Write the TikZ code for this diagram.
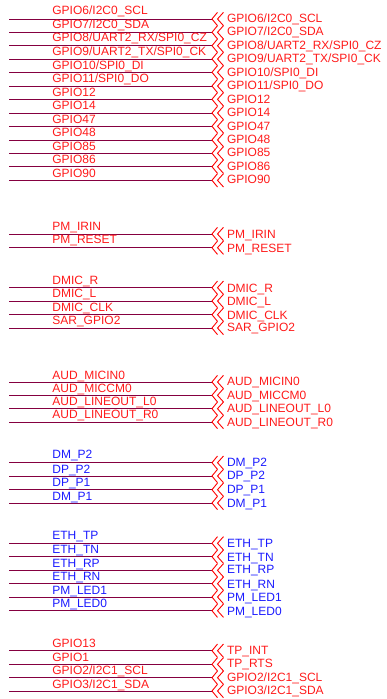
\documentclass[tikz,border=0pt]{standalone}
\usepackage{fontspec}
\setmainfont{Liberation Sans}
\definecolor{netline}{HTML}{850040}
\definecolor{sigred}{HTML}{FF1A1A}
\definecolor{sigblue}{HTML}{1A1AFF}
\tikzset{
  wire/.style={draw=netline,line width=1pt},
  chev/.style={draw=red,line width=0.9pt,line join=miter},
  siglabel/.style={anchor=base west,inner sep=0pt,outer sep=0pt,font=\fontsize{12}{14}\selectfont},
}
% #1 id, #2 wire y, #3 left baseline, #4 right baseline, #5 left text, #6 right text, #7 colour
\newcommand{\netrow}[7]{%
  \coordinate (#1s) at (9,#2);
  \coordinate (#1e) at (212,#2);
  \draw[wire] (#1s) -- (#1e);
  \draw[chev] ([shift={(5.5,-6.7)}]#1e) -- (#1e) -- ([shift={(5.5,6.7)}]#1e);
  \draw[chev] ([shift={(11.5,-6.7)}]#1e) -- ([shift={(5.5,0)}]#1e) -- ([shift={(11.5,6.7)}]#1e);
  \node[siglabel,text=#7] (#1l) at (52.4,#3) {#5};
  \node[siglabel,text=#7] (#1r) at (227,#4) {#6};
}
\begin{document}
\begin{tikzpicture}[x=1pt,y=-1pt]
\useasboundingbox (0,0) rectangle (387,699);
\netrow{a1}{19}{14.7}{22.7}{GPIO6/I2C0\_SCL}{GPIO6/I2C0\_SCL}{sigred}
\netrow{a2}{32.3}{28.7}{35.3}{GPIO7/I2C0\_SDA}{GPIO7/I2C0\_SDA}{sigred}
\netrow{a3}{45.7}{41.7}{49}{GPIO8/UART2\_RX/SPI0\_CZ}{GPIO8/UART2\_RX/SPI0\_CZ}{sigred}
\netrow{a4}{59}{55.7}{62.3}{GPIO9/UART2\_TX/SPI0\_CK}{GPIO9/UART2\_TX/SPI0\_CK}{sigred}
\netrow{a5}{72.3}{69}{76}{GPIO10/SPI0\_DI}{GPIO10/SPI0\_DI}{sigred}
\netrow{a6}{86}{82.3}{89}{GPIO11/SPI0\_DO}{GPIO11/SPI0\_DO}{sigred}
\netrow{a7}{99.3}{96.3}{103}{GPIO12}{GPIO12}{sigred}
\netrow{a8}{113}{109.7}{116.3}{GPIO14}{GPIO14}{sigred}
\netrow{a9}{126.3}{123}{130.3}{GPIO47}{GPIO47}{sigred}
\netrow{a10}{140}{136.3}{143}{GPIO48}{GPIO48}{sigred}
\netrow{a11}{153.3}{150.3}{156.3}{GPIO85}{GPIO85}{sigred}
\netrow{a12}{166.7}{163.7}{170.3}{GPIO86}{GPIO86}{sigred}
\netrow{a13}{180.3}{177}{183.3}{GPIO90}{GPIO90}{sigred}
\netrow{b1}{234}{230.7}{238}{PM\_IRIN}{PM\_IRIN}{sigred}
\netrow{b2}{247.7}{243.7}{252}{PM\_RESET}{PM\_RESET}{sigred}
\netrow{c1}{287.7}{284}{292}{DMIC\_R}{DMIC\_R}{sigred}
\netrow{c2}{301}{297.7}{305}{DMIC\_L}{DMIC\_L}{sigred}
\netrow{c3}{314.7}{311}{319}{DMIC\_CLK}{DMIC\_CLK}{sigred}
\netrow{c4}{328}{324.7}{331.7}{SAR\_GPIO2}{SAR\_GPIO2}{sigred}
\netrow{d1}{382}{379}{385.7}{AUD\_MICIN0}{AUD\_MICIN0}{sigred}
\netrow{d2}{395.3}{392}{399.7}{AUD\_MICCM0}{AUD\_MICCM0}{sigred}
\netrow{d3}{408.7}{405.3}{412.7}{AUD\_LINEOUT\_L0}{AUD\_LINEOUT\_L0}{sigred}
\netrow{d4}{422}{418.7}{426}{AUD\_LINEOUT\_R0}{AUD\_LINEOUT\_R0}{sigred}
\netrow{e1}{462.7}{458.7}{466.7}{DM\_P2}{DM\_P2}{sigblue}
\netrow{e2}{476}{473}{479.7}{DP\_P2}{DP\_P2}{sigblue}
\netrow{e3}{489.7}{486}{493.7}{DP\_P1}{DP\_P1}{sigblue}
\netrow{e4}{503}{500.3}{507}{DM\_P1}{DM\_P1}{sigblue}
\netrow{f1}{543.3}{539.7}{547}{ETH\_TP}{ETH\_TP}{sigblue}
\netrow{f2}{556.7}{553}{561}{ETH\_TN}{ETH\_TN}{sigblue}
\netrow{f3}{570.3}{567}{573.7}{ETH\_RP}{ETH\_RP}{sigblue}
\netrow{f4}{583.7}{580.3}{588}{ETH\_RN}{ETH\_RN}{sigblue}
\netrow{f5}{597}{594}{601}{PM\_LED1}{PM\_LED1}{sigblue}
\netrow{f6}{610.7}{607}{615}{PM\_LED0}{PM\_LED0}{sigblue}
\netrow{g1}{650.7}{647.7}{654.7}{GPIO13}{TP\_INT}{sigred}
\netrow{g2}{664.3}{661.7}{667.7}{GPIO1}{TP\_RTS}{sigred}
\netrow{g3}{677.7}{674.3}{681.7}{GPIO2/I2C1\_SCL}{GPIO2/I2C1\_SCL}{sigred}
\netrow{g4}{691}{688}{694.7}{GPIO3/I2C1\_SDA}{GPIO3/I2C1\_SDA}{sigred}
\end{tikzpicture}
\end{document}
